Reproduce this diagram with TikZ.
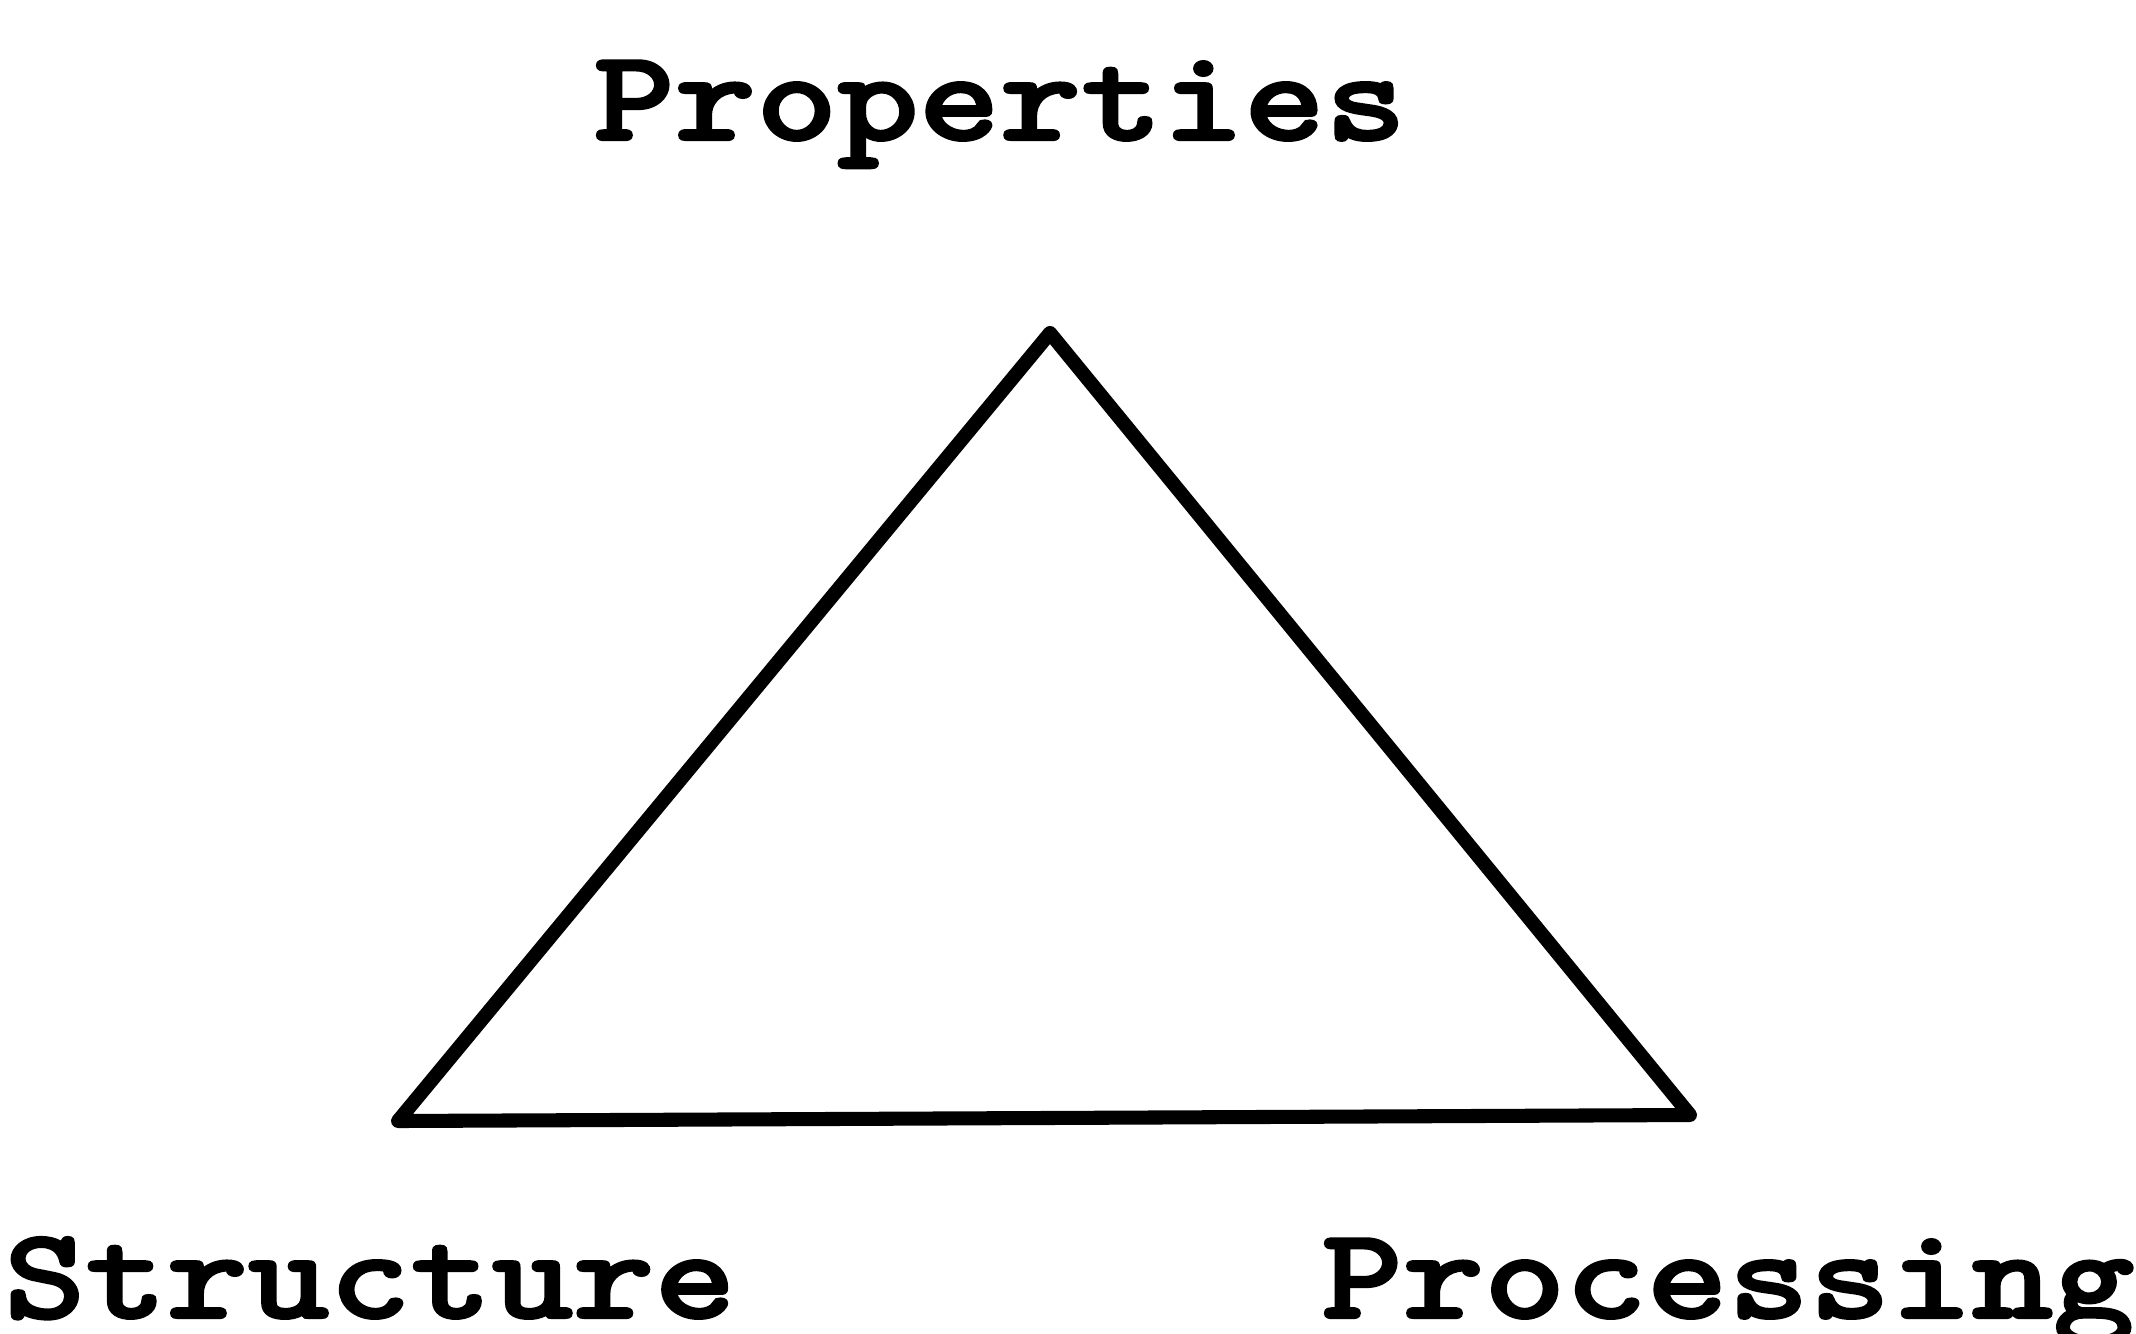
\documentclass[tikz,border=0pt]{standalone}
\usepackage{fontspec}
\usepackage{tikz}
\usetikzlibrary{positioning, calc}
\newfontfamily\labelfont[FakeBold=1.8]{lmmonolt10-bold.otf}

\tikzset{
  side/.style={line width=4pt, line join=round, line cap=round},
  corner label/.style={font=\labelfont\fontsize{37}{40}\selectfont, inner sep=0pt, xscale=1.19, anchor=base}
}

\begin{document}
\begin{tikzpicture}[x=0.01cm, y=-0.01cm]
  \useasboundingbox (0,0) rectangle (2136,1333);
  % corners of the triangle
  \coordinate (apex) at (1050,333);
  \coordinate (left) at (398,1121);
  \coordinate (right) at (1690,1115);
  \draw[side] (apex) -- (right) -- (left) -- cycle;
  % labels
  \node[corner label] (props) at (1000,140) {Properties};
  \node[corner label] (struct) at (370,1318) {Structure};
  \node[corner label] (proc) at (1728,1318) {Processing};
\end{tikzpicture}
\end{document}
